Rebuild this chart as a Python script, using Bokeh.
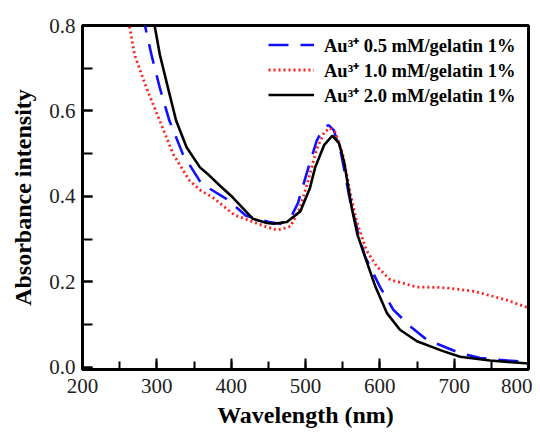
from bokeh.plotting import figure
from bokeh.models import SingleIntervalTicker, Range1d, Legend, LegendItem, CustomJSTickFormatter
from bokeh.embed import file_html
from bokeh.resources import INLINE

# Wavelength (nm) / absorbance
wl_05 = [282, 284, 292.7, 304, 317, 335, 360, 393, 420, 451, 466, 480, 490, 504,
         515, 524, 531, 538, 548, 560, 570, 580, 600, 618, 641, 663, 690, 708,
         735, 753, 800]
ab_05 = [0.83, 0.80, 0.732, 0.654, 0.577, 0.499, 0.43, 0.395, 0.355, 0.34, 0.336,
         0.35, 0.385, 0.468, 0.53, 0.56, 0.567, 0.555, 0.50, 0.39, 0.32, 0.26,
         0.189, 0.135, 0.096, 0.065, 0.046, 0.033, 0.022, 0.0186, 0.012]

wl_10 = [260, 263, 270, 286, 304, 322, 344, 359, 375, 404, 430, 447, 462, 480,
         493, 504, 515, 525, 533, 540, 550, 560, 569, 582, 596, 614, 650, 680,
         695, 726, 770, 800]
ab_10 = [0.82, 0.80, 0.732, 0.654, 0.577, 0.499, 0.437, 0.414, 0.398, 0.357, 0.34,
         0.329, 0.321, 0.33, 0.375, 0.44, 0.51, 0.55, 0.56, 0.55, 0.50, 0.41,
         0.34, 0.274, 0.236, 0.205, 0.188, 0.187, 0.185, 0.178, 0.158, 0.139]

wl_20 = [295, 297, 304, 315, 326, 340, 358, 370, 385, 402, 429, 448, 457, 475,
         493, 506, 513, 525, 536, 545, 552, 562, 570, 580, 594, 609.5, 627, 650,
         685, 708, 748, 800]
ab_20 = [0.83, 0.80, 0.732, 0.654, 0.577, 0.515, 0.468, 0.45, 0.425, 0.398, 0.348,
         0.338, 0.336, 0.34, 0.365, 0.42, 0.468, 0.52, 0.542, 0.525, 0.48, 0.375,
         0.31, 0.259, 0.189, 0.127, 0.088, 0.061, 0.038, 0.025, 0.016, 0.009]

labels = ["Au\u00b3\u207a 0.5 mM/gelatin 1%",
          "Au\u00b3\u207a 1.0 mM/gelatin 1%",
          "Au\u00b3\u207a 2.0 mM/gelatin 1%"]

SERIF = "Liberation Serif"

p = figure(width=532, height=432, output_backend="svg", toolbar_location=None,
           x_range=Range1d(200, 800), y_range=Range1d(-0.005, 0.8),
           min_border_left=82, min_border_right=4, min_border_top=25,
           min_border_bottom=63)
p.background_fill_color = "white"
p.border_fill_color = "white"
p.grid.visible = False
p.outline_line_color = "black"
p.outline_line_width = 3

r1 = p.line(wl_05, ab_05, line_color="#1010ff", line_width=2.6, line_dash="20 12")
r2 = p.line(wl_10, ab_10, line_color="#ff2020", line_width=2.8, line_dash="2 3")
r3 = p.line(wl_20, ab_20, line_color="black", line_width=2.6)

legend = Legend(items=[LegendItem(label=labels[0], renderers=[r1]),
                       LegendItem(label=labels[1], renderers=[r2]),
                       LegendItem(label=labels[2], renderers=[r3])],
                location=(186, 262))
legend.border_line_color = None
legend.background_fill_alpha = 0
legend.label_text_font = SERIF
legend.label_text_font_style = "bold"
legend.label_text_font_size = "18.5px"
legend.label_text_color = "black"
legend.glyph_width = 46
legend.glyph_height = 21
legend.label_height = 21
legend.spacing = -2
legend.label_standoff = 10
legend.padding = 5
legend.margin = 0
p.add_layout(legend)

xa = p.xaxis[0]
xa.ticker = SingleIntervalTicker(interval=100, num_minor_ticks=2)
xa.axis_label = "Wavelength (nm)"
ya = p.yaxis[0]
ya.ticker = SingleIntervalTicker(interval=0.2, num_minor_ticks=2)
ya.axis_label = "Absorbance intensity"
ya.formatter = CustomJSTickFormatter(code="return tick.toFixed(1);")

for ax in (xa, ya):
    ax.axis_line_width = 3
    ax.axis_line_color = "black"
    ax.major_tick_line_width = 2
    ax.minor_tick_line_width = 2
    ax.major_tick_line_color = "black"
    ax.minor_tick_line_color = "black"
    ax.major_tick_out = 0
    ax.minor_tick_out = 0
    ax.major_label_text_font = SERIF
    ax.major_label_text_font_size = "21px"
    ax.major_label_text_color = "#222222"
    ax.axis_label_text_font = SERIF
    ax.axis_label_text_font_style = "bold"
    ax.axis_label_text_font_size = "24px"
    ax.axis_label_text_color = "black"

xa.major_tick_in = 11
xa.minor_tick_in = 8
xa.major_label_standoff = 9
xa.axis_label_standoff = 6
ya.major_tick_in = 10
ya.minor_tick_in = 10
ya.major_label_standoff = 7
ya.axis_label_standoff = 10

open("out.html", "w").write(file_html(p, INLINE))
